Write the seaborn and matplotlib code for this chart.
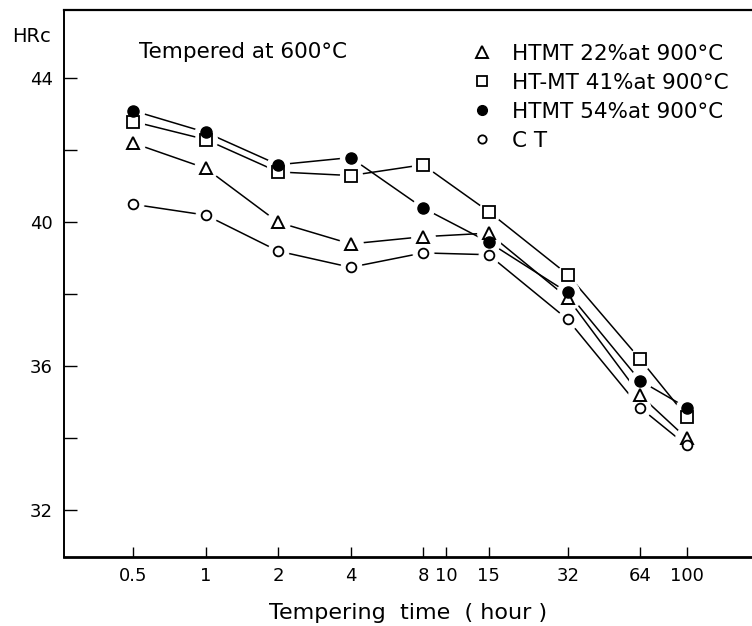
import matplotlib
matplotlib.use("Agg")
import matplotlib.pyplot as plt
from matplotlib import font_manager
from matplotlib.lines import Line2D
import numpy as np
import pandas as pd
import seaborn as sns

# ---- data ----
hours = [0.5, 1, 2, 4, 8, 15, 32, 64, 100]
htmt22 = [42.2, 41.5, 40.0, 39.4, 39.6, 39.7, 37.9, 35.2, 34.0]
htmt41 = [42.8, 42.3, 41.4, 41.3, 41.6, 40.3, 38.55, 36.2, 34.6]
htmt54 = [43.1, 42.5, 41.6, 41.8, 40.4, 39.45, 38.05, 35.6, 34.85]
ct = [40.5, 40.2, 39.2, 38.75, 39.15, 39.1, 37.3, 34.85, 33.8]
series_names = ["HTMT 22%at 900°C", "HT-MT 41%at 900°C", "HTMT 54%at 900°C", "C T"]
x_ticks = [0.5, 1, 2, 4, 8, 10, 15, 32, 64, 100]
x_tick_labels = ["0.5", "1", "2", "4", "8", "10", "15", "32", "64", "100"]
y_ticks = [32, 36, 40, 44]
y_minor = [34, 38, 42]

sns.set_theme(style="white")
names = {f.name for f in font_manager.fontManager.ttflist}
fam = "Liberation Sans Narrow" if "Liberation Sans Narrow" in names else "DejaVu Sans"
plt.rcParams["font.family"] = [fam, "DejaVu Sans"]
for k in ["text.color", "axes.labelcolor", "xtick.color", "ytick.color"]:
    plt.rcParams[k] = "black"

df = pd.concat([
    pd.DataFrame({"hours": hours, "HRc": vals, "series": name})
    for name, vals in zip(series_names, [htmt22, htmt41, htmt54, ct])
], ignore_index=True)

styles = {
    series_names[0]: dict(marker="^", fc="white", ms=9.0, mew=1.4),
    series_names[1]: dict(marker="s", fc="white", ms=8.0, mew=1.3),
    series_names[2]: dict(marker="o", fc="black", ms=8.0, mew=1.0),
    series_names[3]: dict(marker="o", fc="white", ms=7.0, mew=1.3),
}

fig = plt.figure(figsize=(7.52, 6.26), dpi=100)
ax = fig.add_axes([64 / 752, 1 - 557 / 626, 1 - 64 / 752, (557 - 10) / 626])

for name in series_names:
    sub = df[df["series"] == name]
    st = styles[name]
    sns.lineplot(data=sub, x="hours", y="HRc", ax=ax, color="black", lw=1.1,
                 legend=False, zorder=2)
    # white halo so the lines stop short of the markers
    sns.lineplot(data=sub, x="hours", y="HRc", ax=ax, lw=0, marker="o",
                 markersize=st["ms"] + 8, markerfacecolor="white",
                 markeredgecolor="white", legend=False, zorder=3)
    sns.lineplot(data=sub, x="hours", y="HRc", ax=ax, lw=0, marker=st["marker"],
                 markersize=st["ms"], markerfacecolor=st["fc"],
                 markeredgecolor="black", markeredgewidth=st["mew"],
                 legend=False, zorder=4)

ax.set_xscale("log")
ax.set_xlim(0.257, 187)
ax.set_ylim(30.7, 45.9)

ax.set_xticks(x_ticks)
ax.set_xticklabels(x_tick_labels)
ax.set_xticks([1, 10, 100], minor=True)
ax.xaxis.set_minor_formatter(matplotlib.ticker.NullFormatter())
ax.tick_params(axis="x", which="major", direction="in", length=7, width=1.0,
               labelsize=13, pad=7, bottom=True)
ax.tick_params(axis="x", which="minor", direction="in", length=19, width=1.2,
               bottom=True)

ax.set_yticks(y_ticks)
ax.set_yticks(y_minor, minor=True)
ax.tick_params(axis="y", which="both", direction="in", length=9, width=1.0,
               labelsize=13, pad=8, left=True)
ax.tick_params(axis="y", which="minor", labelleft=False)

for s in ["left", "bottom", "top"]:
    ax.spines[s].set_visible(True)
    ax.spines[s].set_color("black")
ax.spines["left"].set_linewidth(1.4)
ax.spines["bottom"].set_linewidth(2.0)
ax.spines["top"].set_linewidth(1.6)
ax.spines["right"].set_visible(False)

ax.set_xlabel("Tempering  time  ( hour )", fontsize=16, labelpad=13)
ax.set_ylabel("")

fig.text(32 / 752, 1 - 37 / 626, "HRc", fontsize=14, ha="center", va="center")
fig.text(139 / 752, 1 - 52 / 626, "Tempered at 600°C", fontsize=15.5,
         ha="left", va="center")

handles = []
for name in series_names:
    st = styles[name]
    handles.append(Line2D([], [], lw=0, marker=st["marker"],
                          markersize=st["ms"] - 1, markerfacecolor=st["fc"],
                          markeredgecolor="black", markeredgewidth=st["mew"]))
leg = ax.legend(handles, series_names, loc="upper left",
                bbox_to_anchor=(0.57, 0.966), frameon=False, fontsize=15.5,
                handlelength=1.0, handletextpad=0.9, labelspacing=0.42,
                borderpad=0.2)

fig.savefig("out.png", dpi=100)
